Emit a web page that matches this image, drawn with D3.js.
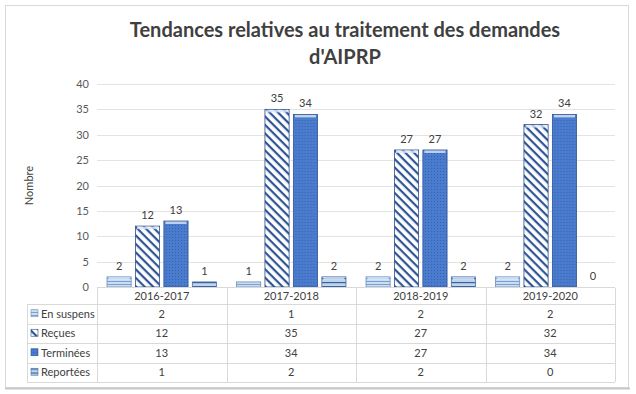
<!DOCTYPE html>
<html>
<head>
<meta charset="utf-8">
<script src="https://cdn.jsdelivr.net/npm/d3@7"></script>
<style>
  body { margin: 0; background: #fff; }
  svg { display: block; font-family: Lato, "Open Sans", sans-serif; }
</style>
</head>
<body>
<div id="chart"></div>
<script>
// chart data
const categories = ["2016-2017", "2017-2018", "2018-2019", "2019-2020"];
const seriesNames = ["En suspens", "Reçues", "Terminées", "Reportées"];
const enSuspens = [2, 1, 2, 2];
const recues = [12, 35, 27, 32];
const terminees = [13, 34, 27, 34];
const reportees = [1, 2, 2, 0];
const yTicks = [0, 5, 10, 15, 20, 25, 30, 35, 40];
const titleLines = ["Tendances relatives au traitement des demandes", "d'AIPRP"];
const yTitle = "Nombre";

const seriesValues = [enSuspens, recues, terminees, reportees];
const patternIds = ["p-suspens", "p-recues", "p-terminees", "p-reportees"];
const borderColors = ["#6f8fbf", "#2f4f8a", "#2f5597", "#4a6fa8"];

const W = 636, H = 394;
const plot = { left: 97, right: 615, top: 84, bottom: 287 };
const tableTop = 288, headerH = 16, rowH = 19.5, legendLeft = 27;

const svg = d3.select("#chart").append("svg")
    .attr("width", W)
    .attr("height", H);

// patterns for bars
const defs = svg.append("defs");

const p1 = defs.append("pattern").attr("id", patternIds[0])
    .attr("patternUnits", "userSpaceOnUse").attr("width", 4).attr("height", 3);
p1.append("rect").attr("width", 4).attr("height", 3).attr("fill", "#c9def2");
p1.append("rect").attr("y", 2).attr("width", 4).attr("height", 1).attr("fill", "#7e9fcf");

const p2 = defs.append("pattern").attr("id", patternIds[1])
    .attr("patternUnits", "userSpaceOnUse").attr("width", 6).attr("height", 6)
    .attr("patternTransform", "rotate(45)");
p2.append("rect").attr("width", 6).attr("height", 6).attr("fill", "#ffffff");
p2.append("rect").attr("width", 6).attr("height", 2.2).attr("fill", "#2f5597");

const p3 = defs.append("pattern").attr("id", patternIds[2])
    .attr("patternUnits", "userSpaceOnUse").attr("width", 3).attr("height", 3);
p3.append("rect").attr("width", 3).attr("height", 3).attr("fill", "#4a7bcc");
p3.append("rect").attr("width", 1).attr("height", 1).attr("fill", "#3563b3");

const p4 = defs.append("pattern").attr("id", patternIds[3])
    .attr("patternUnits", "userSpaceOnUse").attr("width", 4).attr("height", 4);
p4.append("rect").attr("width", 4).attr("height", 4).attr("fill", "#bcd5ef");
p4.append("rect").attr("y", 2).attr("width", 4).attr("height", 1.2).attr("fill", "#3b5f98");

// outer frame
svg.append("rect")
    .attr("x", 5.5).attr("y", 5.5)
    .attr("width", 623).attr("height", 382)
    .attr("fill", "#fff")
    .attr("stroke", "#d9d9d9");
svg.append("line")
    .attr("x1", 5).attr("x2", 630).attr("y1", 388.5).attr("y2", 388.5)
    .attr("stroke", "#c8c8c8").attr("stroke-width", 2);

// title
svg.append("text")
    .attr("x", 345).attr("text-anchor", "middle")
    .attr("font-size", 20).attr("font-weight", "bold")
    .attr("fill", "#404040")
    .selectAll("tspan").data(titleLines).join("tspan")
    .attr("x", 345)
    .attr("y", (d, i) => 37 + i * 27)
    .text(d => d);

// scales
const x0 = d3.scaleBand().domain(categories).range([plot.left, plot.right]);
const x1 = d3.scaleBand().domain(seriesNames)
    .range([10, x0.bandwidth() - 10]).paddingInner(0.15);
const y = d3.scaleLinear().domain([0, 40]).range([plot.bottom, plot.top]);

// gridlines
svg.append("g").selectAll("line").data(yTicks.slice(1)).join("line")
    .attr("x1", plot.left).attr("x2", plot.right)
    .attr("y1", d => Math.round(y(d)) + 0.5).attr("y2", d => Math.round(y(d)) + 0.5)
    .attr("stroke", "#e3e3e3");

// y axis labels
const yAxis = svg.append("g")
    .attr("transform", `translate(${plot.left - 8},0)`)
    .call(d3.axisLeft(y).tickValues(yTicks).tickSize(0).tickPadding(0));
yAxis.select(".domain").remove();
yAxis.selectAll("text")
    .attr("font-family", "Lato, sans-serif")
    .attr("font-size", 11).attr("fill", "#595959");

svg.append("text")
    .attr("transform", `translate(33,${(plot.top + plot.bottom) / 2}) rotate(-90)`)
    .attr("text-anchor", "middle")
    .attr("font-size", 11).attr("fill", "#404040")
    .text(yTitle);

// bars
const groups = svg.append("g").selectAll("g").data(categories).join("g")
    .attr("transform", d => `translate(${x0(d)},0)`);

groups.selectAll("rect")
    .data((c, ci) => seriesNames.map((s, si) => ({ s, si, v: seriesValues[si][ci] })))
    .join("rect")
    .attr("x", d => x1(d.s))
    .attr("y", d => y(d.v))
    .attr("width", x1.bandwidth())
    .attr("height", d => y(0) - y(d.v))
    .attr("fill", d => `url(#${patternIds[d.si]})`)
    .attr("stroke", d => d.v > 0 ? borderColors[d.si] : "none")
    .attr("stroke-width", 0.8);

// light top cap for the bevel look
groups.selectAll("rect.cap")
    .data((c, ci) => seriesNames.map((s, si) => ({ s, si, v: seriesValues[si][ci] })).filter(d => d.v > 1))
    .join("rect")
    .attr("class", "cap")
    .attr("x", d => x1(d.s) + 1.5)
    .attr("y", d => y(d.v) + 0.5)
    .attr("width", x1.bandwidth() - 3)
    .attr("height", 2.5)
    .attr("fill", "#dbe8f7")
    .attr("opacity", 0.8);

// data labels
groups.selectAll("text.lbl")
    .data((c, ci) => seriesNames.map((s, si) => ({ s, si, v: seriesValues[si][ci] })))
    .join("text")
    .attr("class", "lbl")
    .attr("x", d => x1(d.s) + x1.bandwidth() / 2)
    .attr("y", d => y(d.v) - 7)
    .attr("text-anchor", "middle")
    .attr("font-size", 11).attr("fill", "#404040")
    .text(d => d.v);

// axis line
svg.append("line")
    .attr("x1", plot.left).attr("x2", plot.right)
    .attr("y1", plot.bottom + 0.5).attr("y2", plot.bottom + 0.5)
    .attr("stroke", "#d9d9d9");

// data table
const table = svg.append("g").attr("stroke", "#d9d9d9").attr("fill", "none");
const tableBottom = tableTop + headerH + rowH * seriesNames.length;
// vertical lines
table.selectAll("line.v").data(d3.range(categories.length + 1)).join("line")
    .attr("class", "v")
    .attr("x1", i => Math.round(plot.left + i * x0.step()) + 0.5)
    .attr("x2", i => Math.round(plot.left + i * x0.step()) + 0.5)
    .attr("y1", tableTop).attr("y2", tableBottom);
// horizontal lines
table.selectAll("line.h").data(d3.range(seriesNames.length + 1)).join("line")
    .attr("class", "h")
    .attr("x1", legendLeft).attr("x2", plot.right)
    .attr("y1", i => Math.round(tableTop + headerH + i * rowH) + 0.5)
    .attr("y2", i => Math.round(tableTop + headerH + i * rowH) + 0.5);
table.append("line")
    .attr("x1", legendLeft + 0.5).attr("x2", legendLeft + 0.5)
    .attr("y1", tableTop + headerH).attr("y2", tableBottom);

// header labels
svg.append("g").selectAll("text").data(categories).join("text")
    .attr("x", d => x0(d) + x0.bandwidth() / 2)
    .attr("y", tableTop + 12)
    .attr("text-anchor", "middle")
    .attr("font-size", 11).attr("fill", "#404040")
    .text(d => d);

// rows
const rows = svg.append("g").selectAll("g").data(seriesNames).join("g")
    .attr("transform", (d, i) => `translate(0,${tableTop + headerH + i * rowH})`);

rows.append("rect")
    .attr("x", legendLeft + 4).attr("y", rowH / 2 - 4)
    .attr("width", 7).attr("height", 7)
    .attr("fill", (d, i) => `url(#${patternIds[i]})`)
    .attr("stroke", (d, i) => borderColors[i]).attr("stroke-width", 0.6);

rows.append("text")
    .attr("x", legendLeft + 14).attr("y", rowH / 2 + 4)
    .attr("font-size", 11).attr("fill", "#404040")
    .text(d => d);

rows.selectAll("text.val")
    .data((s, si) => categories.map((c, ci) => ({ c, v: seriesValues[si][ci] })))
    .join("text")
    .attr("class", "val")
    .attr("x", d => x0(d.c) + x0.bandwidth() / 2)
    .attr("y", rowH / 2 + 4)
    .attr("text-anchor", "middle")
    .attr("font-size", 11).attr("fill", "#404040")
    .text(d => d.v);
</script>
</body>
</html>
